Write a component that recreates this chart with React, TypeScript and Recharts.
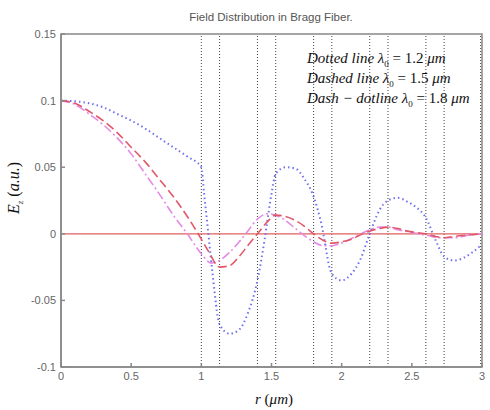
import { LineChart, Line, XAxis, YAxis, ReferenceLine, ReferenceArea } from 'recharts';

// r (um) sample points and Ez (a.u.) for each wavelength
const rDotted = [0, 0.1, 0.2, 0.3, 0.4, 0.5, 0.6, 0.7, 0.8, 0.9, 1.0, 1.02, 1.05, 1.08, 1.13, 1.2, 1.27, 1.33, 1.4, 1.45, 1.5, 1.53, 1.6, 1.67, 1.73, 1.8, 1.85, 1.93, 2.0, 2.07, 2.13, 2.2, 2.27, 2.33, 2.4, 2.47, 2.53, 2.6, 2.67, 2.73, 2.8, 2.87, 2.93, 3.0];
const ezDotted = [0.1, 0.0995, 0.098, 0.095, 0.09, 0.085, 0.079, 0.072, 0.065, 0.058, 0.05, 0.03, 0.0, -0.03, -0.068, -0.075, -0.072, -0.06, -0.035, -0.005, 0.03, 0.045, 0.05, 0.049, 0.042, 0.028, 0.01, -0.03, -0.035, -0.03, -0.02, 0.0, 0.018, 0.025, 0.027, 0.024, 0.02, 0.012, -0.005, -0.017, -0.02, -0.018, -0.014, -0.008];

const rDashed = [0, 0.1, 0.2, 0.3, 0.4, 0.5, 0.6, 0.7, 0.8, 0.9, 1.0, 1.05, 1.13, 1.2, 1.27, 1.33, 1.4, 1.47, 1.53, 1.6, 1.67, 1.73, 1.8, 1.87, 1.93, 2.0, 2.07, 2.13, 2.2, 2.27, 2.33, 2.4, 2.47, 2.53, 2.6, 2.67, 2.73, 2.8, 2.9, 3.0];
const ezDashed = [0.1, 0.098, 0.092, 0.085, 0.076, 0.065, 0.054, 0.041, 0.028, 0.013, -0.004, -0.013, -0.025, -0.024, -0.017, -0.009, 0.0, 0.009, 0.014, 0.013, 0.01, 0.006, 0.0, -0.005, -0.007, -0.006, -0.004, -0.001, 0.002, 0.004, 0.005, 0.004, 0.002, 0.001, 0.0, -0.002, -0.003, -0.002, -0.001, 0.0];

const rDashDot = [0, 0.1, 0.2, 0.3, 0.4, 0.5, 0.6, 0.7, 0.8, 0.9, 1.0, 1.07, 1.13, 1.2, 1.27, 1.33, 1.4, 1.47, 1.53, 1.6, 1.67, 1.73, 1.8, 1.87, 1.93, 2.0, 2.1, 2.2, 2.27, 2.33, 2.4, 2.5, 2.6, 2.7, 2.8, 2.9, 3.0];
const ezDashDot = [0.1, 0.097, 0.09, 0.082, 0.072, 0.06, 0.045, 0.03, 0.014, 0.0, -0.015, -0.022, -0.02, -0.014, -0.006, 0.002, 0.011, 0.015, 0.014, 0.01, 0.004, -0.001, -0.006, -0.009, -0.009, -0.007, -0.002, 0.003, 0.005, 0.005, 0.003, 0.001, -0.001, -0.003, -0.003, -0.001, 0.0];

// layer boundaries of the Bragg cladding
const boundaries = [1.0, 1.13, 1.4, 1.53, 1.8, 1.93, 2.2, 2.33, 2.6, 2.73, 2.99];

const xTicks = [0, 0.5, 1, 1.5, 2, 2.5, 3];
const yTicks = [-0.1, -0.05, 0, 0.05, 0.1, 0.15];

const legendRows = [
  { name: 'Dotted line ', value: '1.2' },
  { name: 'Dashed line ', value: '1.5' },
  { name: 'Dash \u2212 dotline ', value: '1.8' },
];

const zip = (r: number[], ez: number[]) => r.map((v, i) => ({ r: v, ez: ez[i] }));

const tickStyle = { fontFamily: 'Liberation Sans, Arial, sans-serif', fontSize: 11, fill: '#666' };
const serif = 'Liberation Serif, Times New Roman, serif';

export default function App() {
  return (
    <div style={{ position: 'absolute', left: 0, top: 0, width: 490, height: 410, background: '#fff' }}>
      <LineChart width={490} height={410} margin={{ top: 34, right: 8, left: 0, bottom: 0 }}>
        <XAxis
          dataKey="r"
          type="number"
          domain={[0, 3]}
          ticks={xTicks}
          height={43}
          stroke="#888"
          strokeWidth={1.5}
          tickSize={-4}
          tickMargin={9}
          tick={tickStyle}
          allowDuplicatedCategory={false}
        />
        <YAxis
          type="number"
          domain={[-0.1, 0.15]}
          ticks={yTicks}
          width={61}
          stroke="#888"
          strokeWidth={1.5}
          tickSize={-4}
          tickMargin={9}
          tick={tickStyle}
        />
        <ReferenceArea x1={0} x2={3} y1={-0.1} y2={0.15} fill="none" stroke="#888" strokeWidth={1.5} />
        {boundaries.map((b) => (
          <ReferenceLine key={b} x={b} stroke="#444" strokeDasharray="1 2" strokeWidth={1} />
        ))}
        <ReferenceLine y={0} stroke="#e06060" strokeWidth={1.2} />
        <Line
          data={zip(rDotted, ezDotted)}
          dataKey="ez"
          type="monotone"
          stroke="#6f72f0"
          strokeWidth={2}
          strokeDasharray="1.5 3"
          dot={false}
          isAnimationActive={false}
        />
        <Line
          data={zip(rDashDot, ezDashDot)}
          dataKey="ez"
          type="monotone"
          stroke="#e58ae6"
          strokeWidth={1.6}
          strokeDasharray="9 3 2 3"
          dot={false}
          isAnimationActive={false}
        />
        <Line
          data={zip(rDashed, ezDashed)}
          dataKey="ez"
          type="monotone"
          stroke="#e05868"
          strokeWidth={1.6}
          strokeDasharray="9 4"
          dot={false}
          isAnimationActive={false}
        />
      </LineChart>
      <svg width={490} height={410} style={{ position: 'absolute', left: 0, top: 0, pointerEvents: 'none' }}>
        <text x={271} y={21} textAnchor="middle" fontFamily="Liberation Sans, Arial, sans-serif" fontSize={11.5} fill="#555">
          Field Distribution in Bragg Fiber.
        </text>
        {legendRows.map((row, i) => (
          <text key={row.name} x={307} y={63 + i * 20} fontFamily={serif} fontSize={15} fill="#111">
            <tspan fontStyle="italic">{row.name}</tspan>
            <tspan fontStyle="italic">λ</tspan>
            <tspan fontSize={9} dy={4}>0</tspan>
            <tspan dy={-4}> = {row.value} </tspan>
            <tspan fontStyle="italic">μm</tspan>
          </text>
        ))}
        <text x={274} y={404} textAnchor="middle" fontFamily={serif} fontSize={15} fill="#111">
          <tspan fontStyle="italic">r</tspan>
          <tspan> (</tspan>
          <tspan fontStyle="italic">μm</tspan>
          <tspan>)</tspan>
        </text>
        <text x={19} y={188} textAnchor="middle" transform="rotate(-90 19 188)" fontFamily={serif} fontSize={16} fill="#111">
          <tspan fontStyle="italic">E</tspan>
          <tspan fontSize={9} dy={4} fontStyle="italic">z</tspan>
          <tspan dy={-4}> (</tspan>
          <tspan fontStyle="italic">a.u.</tspan>
          <tspan>)</tspan>
        </text>
      </svg>
    </div>
  );
}
